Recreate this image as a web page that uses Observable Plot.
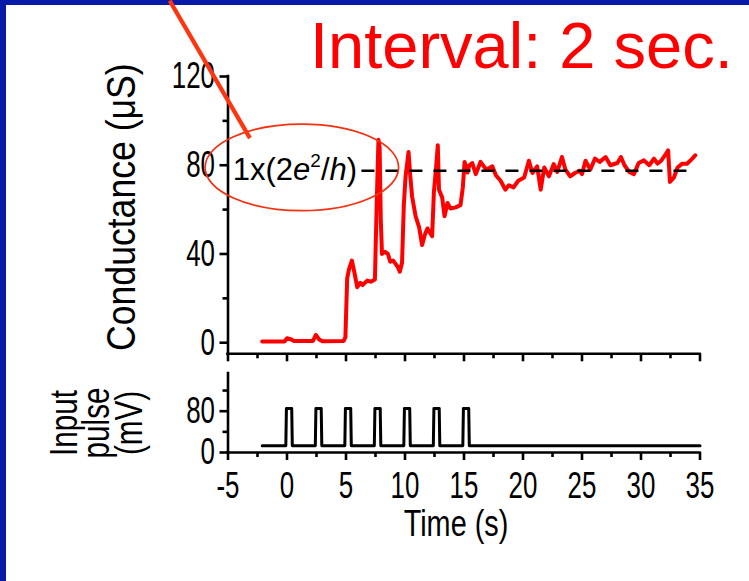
<!DOCTYPE html>
<html><head><meta charset="utf-8">
<script src="https://cdn.jsdelivr.net/npm/d3@7"></script>
<script src="https://cdn.jsdelivr.net/npm/@observablehq/plot@0.6"></script>
<style>
body{margin:0;background:#fff;}
#wrap{position:relative;width:749px;height:581px;overflow:hidden;background:#fff;}
#wrap svg{position:absolute;left:0;overflow:visible;}
</style></head><body><div id="wrap"></div>
<script>
// ---- data ----
const times = [-2.1,-0.2,0.0,0.3,0.6,2.2,2.45,2.7,3.0,4.8,4.95,5.1,5.25,5.5,5.7,5.95,6.2,6.4,6.8,7.1,7.45,7.6,7.75,7.85,7.95,8.05,8.3,8.55,8.75,9.0,9.2,9.4,9.56,9.75,9.9,10.05,10.3,10.45,10.6,10.9,11.2,11.45,11.7,11.9,12.3,12.45,12.62,12.78,12.88,13.15,13.35,13.6,13.86,14.3,14.7,14.9,15.05,15.3,15.45,15.7,16.0,16.4,16.9,17.4,17.7,18.1,18.5,18.8,19.2,19.6,20.1,20.5,20.8,21.2,21.5,21.8,22.2,22.6,22.9,23.3,23.6,24.0,24.4,24.8,25.0,25.3,25.7,26.1,26.5,27.0,27.4,28.0,28.3,28.6,29.0,29.4,29.8,30.25,30.7,31.1,31.4,31.7,32.1,32.3,32.45,32.8,33.1,33.5,33.9,34.35,34.6];
const conductance = [0.5,0.6,2.0,1.6,0.8,0.8,3.5,1.6,0.7,0.8,2.5,29,33,37,32,25,27,26,28,27.5,28.5,62,91.5,88,55,40,41,40,36.5,37,35.5,34,32,36,62,75,86,75,66,57,52,44,49,51.5,48,68,78,89,69,65.5,57,63,60.5,61,62,70,81.5,76.7,80,81,76,81.5,78,79.5,75.5,73,69,71,70,73,74.5,82,76.5,79.5,69,79,75,80.5,77,83.7,78,75,76.5,77.5,76,82,78,83,81.5,83.7,80,81,83.7,80,77,76,81,82.2,80,83,80.7,82,85,86.7,72.5,74.5,79,80.7,80.7,83,84.5];
const pulseTimes = [-2.1,-0.1,-0.05,0.4,0.45,2.4,2.45,2.9,2.95,4.9,4.95,5.4,5.45,7.4,7.45,7.9,7.95,9.9,9.95,10.4,10.45,12.4,12.45,12.9,12.95,14.9,14.95,15.4,15.45,35];
const pulseMv = [13,13,85,85,13,13,85,85,13,13,85,85,13,13,85,85,13,13,85,85,13,13,85,85,13,13,85,85,13,13];
const xTicks = [-5,0,5,10,15,20,25,30,35];
const xTickLabels = ["-5","0","5","10","15","20","25","30","35"];
const xMinorTicks = [-2.5,2.5,7.5,12.5,17.5,22.5,27.5,32.5];
const gTicks = [0,40,80,120];
const gTickLabels = ["0","40","80","120"];
const gMinorTicks = [20,60,100];
const vTicks = [0,80];
const vTickLabels = ["0","80"];
const vMinorTicks = [40,120];
const quantumLevel = 77.5;
const quantumSpan = [6.35, 34.2];

const condData = times.map((t,i)=>({t, g: conductance[i]}));
const pulseData = pulseTimes.map((t,i)=>({t, v: pulseMv[i]}));

const FONT = '"Liberation Sans", Arial, Helvetica, sans-serif';
const style = {fontFamily: FONT, fontSize: "37px", color: "#000", background: "transparent", overflow: "visible"};
const AX = 2.6;

const topPlot = Plot.plot({
  width: 749, height: 370,
  marginLeft: 227.5, marginRight: 49.5, marginTop: 76, marginBottom: 16.7,
  x: {domain: [-5, 35]},
  y: {domain: [-5, 120]},
  style,
  marks: [
    Plot.line(condData, {x: "t", y: "g", stroke: "#ff0000", strokeWidth: 4, strokeLinejoin: "round", strokeLinecap: "round"}),
    Plot.ruleY([quantumLevel], {x1: quantumSpan[0], x2: quantumSpan[1], stroke: "#000", strokeWidth: 2.6, strokeDasharray: "13,11"}),
    Plot.ruleX([-5], {y1: -5, y2: 120, stroke: "#000", strokeWidth: AX, strokeLinecap: "square"}),
    Plot.ruleY([-5], {x1: -5, x2: 35, stroke: "#000", strokeWidth: AX, strokeLinecap: "square"}),
    Plot.axisY(gTicks, {anchor: "left", tickSize: 8, tickPadding: 5, strokeWidth: AX, fontSize: 37, label: null, tickFormat: d => gTickLabels[gTicks.indexOf(d)]}),
    Plot.axisY(gMinorTicks, {anchor: "left", tickSize: 5, strokeWidth: AX, label: null, tickFormat: () => ""}),
    Plot.axisX(xTicks, {anchor: "bottom", tickSize: 8, strokeWidth: AX, label: null, tickFormat: () => ""}),
    Plot.axisX(xMinorTicks, {anchor: "bottom", tickSize: 5, strokeWidth: AX, label: null, tickFormat: () => ""}),
    Plot.text(["Conductance (\u03bcS)"], {frameAnchor: "left", text: d => d, rotate: -90, textAnchor: "middle", lineAnchor: "bottom", dx: -93, dy: -8, fontSize: 40, fill: "#000"})
  ]
});

const botPlot = Plot.plot({
  width: 749, height: 216,
  marginLeft: 227.5, marginRight: 49.5, marginTop: 8, marginBottom: 129,
  x: {domain: [-5, 35]},
  y: {domain: [0, 153]},
  style,
  marks: [
    Plot.line(pulseData, {x: "t", y: "v", stroke: "#000", strokeWidth: 3, strokeLinejoin: "round"}),
    Plot.ruleX([-5], {y1: 0, y2: 153, stroke: "#000", strokeWidth: AX, strokeLinecap: "square"}),
    Plot.ruleY([0], {x1: -5, x2: 35, stroke: "#000", strokeWidth: AX, strokeLinecap: "square"}),
    Plot.axisY(vTicks, {anchor: "left", tickSize: 8, tickPadding: 5, strokeWidth: AX, fontSize: 37, label: null, tickFormat: d => vTickLabels[vTicks.indexOf(d)]}),
    Plot.axisY(vMinorTicks, {anchor: "left", tickSize: 5, strokeWidth: AX, label: null, tickFormat: () => ""}),
    Plot.axisX(xTicks, {anchor: "bottom", tickSize: 8, tickPadding: 11, strokeWidth: AX, fontSize: 37, label: null, tickFormat: d => xTickLabels[xTicks.indexOf(d)]}),
    Plot.axisX(xMinorTicks, {anchor: "bottom", tickSize: 5, strokeWidth: AX, label: null, tickFormat: () => ""}),
    Plot.text(["Time (s)"], {frameAnchor: "bottom", text: d => d, textAnchor: "middle", lineAnchor: "bottom", dx: -8, dy: 83, fontSize: 37, fill: "#000"}),
    Plot.text(["Input\npulse\n(mV)"], {frameAnchor: "left", text: d => d, rotate: -90, textAnchor: "middle", lineAnchor: "middle", lineHeight: 0.85, dx: -129, dy: 10, fontSize: 38, fill: "#000"})
  ]
});

const wrap = document.getElementById("wrap");
topPlot.style.top = "0px";
botPlot.style.top = "365px";
wrap.appendChild(topPlot);
wrap.appendChild(botPlot);

// condense the axis lettering horizontally, as in the reference figure
function squeeze(svg, selector, s) {
  svg.querySelectorAll(selector).forEach(t => {
    const parts = t.querySelectorAll("tspan");
    const items = parts.length ? Array.from(parts) : [t];
    for (const el of items) {
      const w = el.getComputedTextLength();
      if (w > 0) {
        el.setAttribute("textLength", (w * s).toFixed(1));
        el.setAttribute("lengthAdjust", "spacingAndGlyphs");
      }
    }
  });
}
for (const p of [topPlot, botPlot]) {
  squeeze(p, 'g[aria-label="x-axis tick label"] text', 0.7);
  squeeze(p, 'g[aria-label="y-axis tick label"] text', 0.7);
}
squeeze(botPlot, 'g[aria-label="text"] text', 0.78);
squeeze(topPlot, 'g[aria-label="text"] text', 0.89);

// ---- overlay annotations ----
const sx = topPlot.scale("x"), sy = topPlot.scale("y");
const ellipseCenter = [1.3, 78.8], ellipseRadii = [8.2, 19.5];
const pointerFrom = [-9.9, 154], pointerTo = [-3.1, 92];
const ov = d3.create("svg").attr("width", 749).attr("height", 581).style("top", "0px");
ov.append("rect").attr("x", 0).attr("y", 0).attr("width", 6).attr("height", 581).attr("fill", "#0a1aa8");
ov.append("rect").attr("x", 0).attr("y", 0).attr("width", 749).attr("height", 5).attr("fill", "#0a1aa8");
ov.append("text").attr("x", 310).attr("y", 68).attr("font-family", FONT).attr("font-size", 65).attr("fill", "#ff0000").text("Interval: 2 sec.");
const cx = sx.apply(ellipseCenter[0]), cy = sy.apply(ellipseCenter[1]);
ov.append("ellipse").attr("cx", cx).attr("cy", cy)
  .attr("rx", sx.apply(ellipseCenter[0] + ellipseRadii[0]) - cx)
  .attr("ry", cy - sy.apply(ellipseCenter[1] + ellipseRadii[1]))
  .attr("fill", "none").attr("stroke", "#f5300f").attr("stroke-width", 1.7);
const lbl = ov.append("text").attr("x", sx.apply(-4.55)).attr("y", sy.apply(quantumLevel) + 10)
  .attr("font-family", FONT).attr("font-size", 31).attr("fill", "#000");
lbl.append("tspan").text("1x(2");
lbl.append("tspan").attr("font-style", "italic").text("e");
lbl.append("tspan").attr("font-size", 19).attr("dy", -13).text("2");
lbl.append("tspan").attr("dy", 13).text("/");
lbl.append("tspan").attr("font-style", "italic").text("h");
lbl.append("tspan").text(")");
ov.append("line").attr("x1", sx.apply(pointerFrom[0])).attr("y1", sy.apply(pointerFrom[1]))
  .attr("x2", sx.apply(pointerTo[0])).attr("y2", sy.apply(pointerTo[1]))
  .attr("stroke", "#ff3510").attr("stroke-width", 4.2);
wrap.appendChild(ov.node());
</script></body></html>
